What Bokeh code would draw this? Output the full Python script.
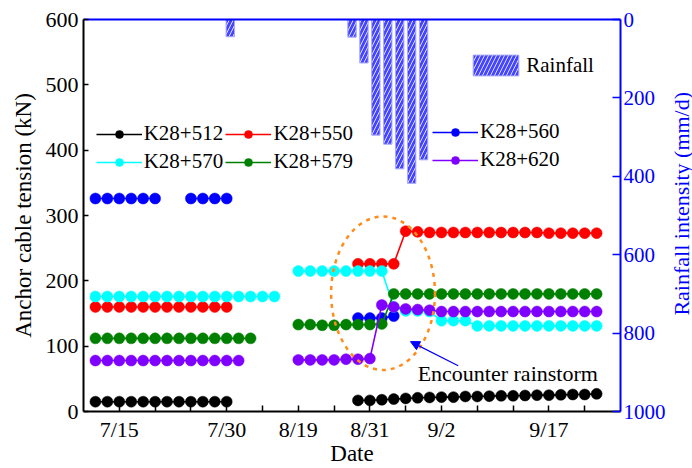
import math
from bokeh.plotting import figure
from bokeh.layouts import row
from bokeh.models import (Range1d, LinearAxis, FixedTicker, Legend, LegendItem,
                          Arrow, NormalHead, Label)
from bokeh.embed import file_html
from bokeh.resources import INLINE

nan = float("nan")

# ---------------- data ----------------
idx = list(range(1, 44))  # measurement index (one per reading)

k512 = [15]*12 + [nan]*10 + [17, 17, 18, 19, 20, 21, 21.5, 22, 22, 23, 23, 23.5,
                             24, 24, 24.5, 25, 25, 25.5, 26, 26, 27]
k550 = [160]*12 + [nan]*10 + [226, 226, 226, 226] + [276, 275, 274, 274, 274, 274, 274,
                                                     274, 274, 274, 274, 274, 273, 273,
                                                     273, 273, 273]
k560 = [326]*6 + [nan]*2 + [326]*4 + [nan]*10 + [143, 143, 143, 146] + [nan]*17
k570 = [176]*16 + [nan] + [215]*8 + [160, 154, 154, 153, 139, 139, 139] + [131]*11
k579 = [112]*14 + [nan]*3 + [133, 133, 132, 132, 133, 133, 133, 134] + [180]*18
k620 = [78]*13 + [nan]*4 + [79, 79, 79, 79, 80, 80, 81] + [163, 160, 157, 156, 155] + [153]*14

series_names = ["K28+512", "K28+550", "K28+560", "K28+570", "K28+579", "K28+620"]
series_vals = [k512, k550, k560, k570, k579, k620]
series_colors = ["#000000", "#ff0000", "#0000ff", "#00ffff", "#008000", "#8000ff"]

rain_pos = [12.3, 22.5, 23.5, 24.5, 25.5, 26.5, 27.5, 28.5]
rain_vals = [44, 45, 111, 295, 318, 381, 418, 358]

x_ticks = [3, 6, 9, 12, 15, 18, 21, 24, 27, 30, 33, 36, 39, 42]
x_tick_labels = {3: "7/15", 12: "7/30", 18: "8/19", 24: "8/31", 30: "9/2", 39: "9/17"}
y_ticks = [0, 100, 200, 300, 400, 500, 600]
rain_ticks = [0, 200, 400, 600, 800, 1000]

FONT = "Liberation Serif"
BLUE = "#0000ff"

# ---------------- main figure ----------------
p = figure(width=668, height=468, output_backend="svg", toolbar_location=None,
           x_range=Range1d(0, 45), y_range=Range1d(0, 600),
           min_border_left=83, min_border_right=48, min_border_top=19,
           min_border_bottom=56)
p.extra_y_ranges = {"rain": Range1d(1000, 0)}
p.xgrid.visible = False
p.ygrid.visible = False
p.outline_line_color = None

# rainfall bars
bars = p.vbar(x=rain_pos, width=0.7, bottom=0, top=rain_vals, y_range_name="rain",
              fill_color="#4545ff", line_color="#a8a8ff", line_width=1,
              hatch_pattern="/", hatch_color="#dcdcff", hatch_scale=8, hatch_weight=1)

# series
renderers = []
for name, vals, col in zip(series_names, series_vals, series_colors):
    lr = p.line(idx, vals, line_color=col, line_width=1.6)
    sr = p.scatter(idx, vals, size=11, fill_color=col, line_color=col, line_width=0.5)
    renderers.append((name, lr, sr))

# ellipse highlight
p.ellipse(x=[25.1], y=[181], width=8.7, height=235, fill_color=None,
          line_color="#ff8c1a", line_width=2.5, line_dash="4 5")

# arrow + annotation
p.add_layout(Arrow(end=NormalHead(size=9, fill_color=BLUE, line_color=BLUE),
                   x_start=31.4, y_start=70, x_end=27.4, y_end=107,
                   line_color=BLUE, line_width=1.2))
p.add_layout(Label(x=28.0, y=58.7, text="Encounter rainstorm", text_font=FONT,
                   text_font_size="22px", text_baseline="middle", text_align="left",
                   text_color="black"))

# ---------------- axes ----------------
xa = p.below[0]
xa.ticker = FixedTicker(ticks=x_ticks)
xa.major_label_overrides = {t: x_tick_labels.get(t, "") for t in x_ticks}
xa.axis_label = "Date"
ya = p.left[0]
ya.ticker = FixedTicker(ticks=y_ticks)
ya.axis_label = "Anchor cable tension (kN)"

for ax in (xa, ya):
    ax.axis_line_color = "black"
    ax.axis_line_width = 2
    ax.major_tick_line_color = "black"
    ax.major_tick_line_width = 1.5
    ax.major_tick_out = 0
    ax.minor_tick_line_color = None
    ax.major_label_text_font = FONT
    ax.major_label_text_font_size = "22px"
    ax.major_label_text_color = "black"
    ax.axis_label_text_font = FONT
    ax.axis_label_text_font_size = "23px"
    ax.axis_label_text_font_style = "normal"
    ax.axis_label_text_color = "black"
xa.major_tick_in = 6
xa.major_label_standoff = 5
xa.axis_label_standoff = -4
ya.major_tick_in = 5
ya.major_label_standoff = 5
ya.axis_label_standoff = 7

ra = LinearAxis(y_range_name="rain", ticker=FixedTicker(ticks=rain_ticks),
                axis_line_color=BLUE, axis_line_width=2,
                major_tick_line_color=BLUE, major_tick_line_width=1.5,
                major_tick_in=8, major_tick_out=0, minor_tick_line_color=None,
                major_label_text_font=FONT, major_label_text_font_size="21px",
                major_label_text_color=BLUE, major_label_standoff=3)
p.add_layout(ra, "right")

ta = LinearAxis(ticker=FixedTicker(ticks=[]), axis_line_color=BLUE, axis_line_width=2,
                major_tick_in=0, major_tick_out=0, minor_tick_line_color=None,
                major_label_text_font_size="0px", major_label_standoff=0)
p.add_layout(ta, "above")

# ---------------- legends ----------------
def make_legend(items, x, y, gw=46, gh=20, standoff=2):
    return Legend(items=items, location=(x, y), orientation="vertical",
                  glyph_width=gw, glyph_height=gh, label_height=20, spacing=3,
                  padding=0, margin=0, label_standoff=standoff,
                  border_line_color=None, background_fill_alpha=0,
                  label_text_font=FONT, label_text_font_size="21px",
                  label_text_color="black")

def item(i):
    name, lr, sr = renderers[i]
    return LegendItem(label=name, renderers=[lr, sr])

p.add_layout(make_legend([item(0), item(3)], 12.7, 237))
p.add_layout(make_legend([item(1), item(4)], 142.4, 237))
p.add_layout(make_legend([item(2), item(5)], 349, 239))
p.add_layout(make_legend([LegendItem(label="Rainfall", renderers=[bars])], 384.3, 332.6,
                         gw=57, gh=26, standoff=2))

# ---------------- right-axis title strip (reads bottom-to-top) ----------------
p2 = figure(width=24, height=468, output_backend="svg", toolbar_location=None,
            x_range=Range1d(0, 24), y_range=Range1d(0, 468),
            min_border_left=0, min_border_right=0, min_border_top=0,
            min_border_bottom=0)
p2.axis.visible = False
p2.xgrid.visible = False
p2.ygrid.visible = False
p2.outline_line_color = None
p2.add_layout(Label(x=12.5, y=248, text="Rainfall intensity (mm/d)", angle=math.pi / 2,
                    text_font=FONT, text_font_size="22px", text_color=BLUE,
                    text_align="center", text_baseline="middle"))

layout = row(p, p2, spacing=0)
open("out.html", "w").write(file_html(layout, INLINE))
